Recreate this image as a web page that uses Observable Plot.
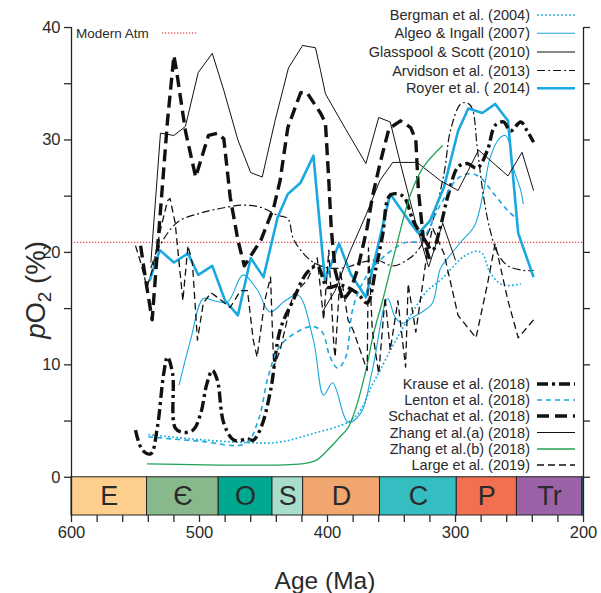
<!DOCTYPE html>
<html><head><meta charset="utf-8">
<script src="https://cdn.jsdelivr.net/npm/d3@7"></script>
<script src="https://cdn.jsdelivr.net/npm/@observablehq/plot@0.6"></script>
<style>body{margin:0;background:#fff;} #chart{width:601px;height:593px;}</style>
</head><body><div id="chart"></div>
<script>
// ---------- data ----------
const modernAtm = 20.9;
const periodNames = ["E", "Є", "O", "S", "D", "C", "P", "Tr", ""];
const periodStart = [600, 541, 485, 443, 419, 359, 299, 252, 201];
const periodEnd   = [541, 485, 443, 419, 359, 299, 252, 201, 200];
const periodColors = ["#FDCF8C", "#88B98C", "#00A88F", "#A8DCCB", "#F0A66E", "#35BEC1", "#F2704F", "#9C62A8", "#33B5D0"];
const xTicks = d3.range(200, 601, 20);
const yTicks = d3.range(0, 41, 5);

const bergmanAge = [540,505,466,439,411,384,374,366,359,349,341,333,322,312,302,294,284,279,273,263,249];
const bergmanO2  = [3.8,3.4,3.1,3.1,3.9,4.9,6,8,9.5,11.7,13.3,14.8,16.6,17.5,18.7,19.6,20.1,19.9,18.2,17.1,17.2];

const algeoAge = [516,507,497,489,478,466,455,445,433,423,411,403,396,384,374,365,353,347,341,334,326,318,312,306,296,285,278,273,266,261,258,255,249,247];
const algeoO2  = [8.2,12.2,15.9,15.7,15.6,18,16.7,14.7,15.7,16.2,12.2,7.3,8.4,4.9,5.7,9.5,15.9,14.2,13.7,14.2,14.7,15.5,18.5,19.5,20.9,22.4,25.5,28.4,30.1,30.4,29.8,27.6,25.5,24.3];

const glasspoolAge = [538,530.5,520,511,501,490,481,470,460,451,441,430.5,419.5,409.4,405.5,401.6,386,370,360,351,343,331,321,310,300];
const glasspoolO2  = [19.1,30.6,30.4,31.2,36,37.7,34.4,30,27.1,26.7,31.7,36.4,38.4,38.2,36.2,34.1,31,27.9,32,31.6,27.9,22.6,18.7,22.6,19.3];

const arvidsonAge = [538,531,517,499,484,466,452,439,431,427,421,411,398,384,374,361,349,338,330,320,309,304,296,291,287,283,278,273,267,259,247,239];
const arvidsonO2  = [18.6,20.6,22.7,23.5,23.9,24.2,24,23.3,23,21.3,20.2,19.1,18.6,18.7,19.1,19.3,18.8,19.3,20.1,22.1,27,30.8,33.2,33.3,32.8,29.3,24.9,22,19.9,18.8,18.4,18.4];

const royerAge = [539,531,520,509,501,490,480,470,460,450,439,431,421,411,402,391,382,370,351,335,329,320,309,298,290,279,269,259,251,239];
const royerO2  = [17.5,20.2,19.1,19.9,18,18.8,15.7,14.4,19.5,17.8,23.1,25.2,26.2,28.6,17.5,20.8,18.1,16,25.2,22.6,21.7,22.8,25.8,30.8,32.8,32.4,33.2,31.7,21.7,17.8];

const krauseAge = [550,544.5,538,533,528,525,521,519,513,505,499,494.5,490,486,481,473,462.5,458,452,444.5,437,427,416,408,400,390,377,369,362.5,357,351,341,333,325,318,312,305.5,298,291,283,275,269,262.5,257,249,244,239];
const krauseO2  = [4.2,2.4,2.1,4.4,9.2,10.7,9.2,4.4,4,4.2,5.7,8.2,9.5,8.6,4.8,3.3,3.4,3.3,4.4,7.7,13.1,15.7,18.2,18.8,16.9,17.1,16.4,15.5,18.4,21.5,25.1,25,22.8,21.3,20.2,22.2,25.2,27.6,27.9,27.5,29.1,31.3,31.6,30.8,31.6,30.8,29.8];

const lentonAge = [540,499,464,454,446,437,421,411,404,398,392,386,380,370,359,341,327,312,298,288,281,270,259,252];
const lentonO2  = [3.6,3.2,3.0,5.1,9.1,11.7,13.1,13.4,12.9,10.7,9.7,10.6,15.1,17.8,19.3,20.8,21.1,24.2,26.6,27,26.7,25.2,23.7,23];

const schachatAge = [546,542,537,530.5,525,520,518,511,503,493,486,481,476,470,465,452,442,437,431,421,416,405.5,401.6,399,397,394,388,382,376,369,365,359,352,343,335,331,329,325,319.5];
const schachatO2  = [20.6,17.5,14,23.7,31.7,37.5,36.2,30.8,26.7,30.4,30.6,30.1,24.9,21.1,18.8,21.1,24,26.4,31.1,34.2,34.2,32.4,31.5,26.4,22,18.4,15.7,16.6,18.7,22.2,24.9,27.9,31,31.7,31.1,30,25.5,21.1,19.1];

const zhangAAge = [404,394,382,370,359,349,330,312,298,290,282,273,259,248,239];
const zhangAO2  = [14.7,16.6,20.2,23.3,26.4,28,28,26.4,25.5,27.3,29.1,28.2,26.8,28.9,25.5];

const zhangBAge = [541,420,409,400,391,384,378,370,364,357,347,335,325,310];
const zhangBO2  = [1.2,1.2,1.5,2.4,3.5,4.4,6.1,9.5,12.8,15.7,20.2,25.2,27.6,29.5];

const largeAge = [550,546,541,537,530.5,525,523,519,513,509,505.5,501.6,497,491,486,476,468,462.5,458,455,449,444.5,442,437,427,416,408,403,399,395,394,390,384,380,369,368,365,360,355,351,345,339,337,331,323,318,309,298,284,275,269,259,251,239];
const largeO2  = [20.6,19.1,16.9,18.4,22,24.6,24.8,22.6,15.7,20.6,19,12.2,15.5,16.4,16,15.1,16.6,16.6,12.2,10.7,15.7,17.8,9.8,11.3,16.2,17.5,19.5,14,20.2,11.6,10.7,18.4,14,13.1,9.5,20.4,13.1,9.2,16,11.3,15.7,9.8,17.2,12.9,19.3,22.2,19.9,14.4,12.4,17.2,20.8,15.7,12.4,14];

// ---------- styles ----------
const CYAN = "#1AA8E0", GREEN = "#1FA456", BLACK = "#111";
const series = [
  {name:"Bergman et al. (2004)", age:bergmanAge, o2:bergmanO2, stroke:CYAN, w:1.6, dash:"1.8,2.2", curve:"catmull-rom"},
  {name:"Algeo & Ingall (2007)", age:algeoAge, o2:algeoO2, stroke:CYAN, w:1.1, dash:null, curve:"catmull-rom"},
  {name:"Glasspool & Scott (2010)", age:glasspoolAge, o2:glasspoolO2, stroke:BLACK, w:1, dash:null, curve:"linear"},
  {name:"Arvidson et al. (2013)", age:arvidsonAge, o2:arvidsonO2, stroke:BLACK, w:1.2, dash:"8,3,2,3", curve:"catmull-rom"},
  {name:"Royer et al. ( 2014)", age:royerAge, o2:royerO2, stroke:CYAN, w:2.6, dash:null, curve:"linear"},
  {name:"Krause et al. (2018)", age:krauseAge, o2:krauseO2, stroke:BLACK, w:3.4, dash:"11,4,3,4", curve:"catmull-rom"},
  {name:"Lenton et al. (2018)", age:lentonAge, o2:lentonO2, stroke:CYAN, w:1.6, dash:"5,4", curve:"catmull-rom"},
  {name:"Schachat et al. (2018)", age:schachatAge, o2:schachatO2, stroke:BLACK, w:3.4, dash:"12,6", curve:"linear"},
  {name:"Zhang et al.(a) (2018)", age:zhangAAge, o2:zhangAO2, stroke:BLACK, w:1, dash:null, curve:"linear"},
  {name:"Zhang et al.(b) (2018)", age:zhangBAge, o2:zhangBO2, stroke:GREEN, w:1.3, dash:null, curve:"catmull-rom"},
  {name:"Large et al. (2019)", age:largeAge, o2:largeO2, stroke:BLACK, w:1.3, dash:"7,4", curve:"linear"}
];
const barBottom = -3.4;
const periods = periodNames.map((n,i)=>({name:n, x1:periodStart[i], x2:periodEnd[i], fill:periodColors[i], mid:(periodStart[i]+periodEnd[i])/2}));

const lineMarks = series.map(s => Plot.line(s.age.map((a,i)=>({age:a, o2:s.o2[i]})), {
  x:"age", y:"o2", stroke:s.stroke, strokeWidth:s.w, strokeDasharray:s.dash, curve:s.curve, strokeLinecap:"butt", strokeLinejoin:"round"
}));

const chart = Plot.plot({
  width:601, height:593,
  marginTop:27, marginBottom:78, marginLeft:71, marginRight:18,
  style:{fontFamily:"'Liberation Sans', Arial, sans-serif", fontSize:"16.5px", color:"#2a2a2a", background:"#fff"},
  x:{domain:[600,200]},
  y:{domain:[barBottom,40]},
  marks:[
    Plot.ruleY([modernAtm], {stroke:"#E31A1C", strokeWidth:1, strokeDasharray:"1.3,1.7"}),
    ...lineMarks,
    Plot.rect(periods, {x1:"x1", x2:"x2", y1:barBottom, y2:0, fill:"fill", stroke:"#222", strokeWidth:1}),
    Plot.text(periods, {x:"mid", y:barBottom/2, text:"name", fontSize:27, fill:"#2a2a2a"}),
    Plot.ruleX([600], {y1:barBottom, y2:40, stroke:"#222", strokeWidth:1.3}),
    Plot.ruleX([200], {y1:barBottom, y2:40, stroke:"#222", strokeWidth:1.3}),
    Plot.axisY({anchor:"left", ticks:yTicks, tickSize:7, tickPadding:4, tickFormat:d=> d%10===0 ? d : "", label:null, strokeWidth:1.3}),
    Plot.axisY({anchor:"right", ticks:yTicks, tickSize:6, tickFormat:()=> "", label:null, strokeWidth:1.3}),
    Plot.axisX({anchor:"bottom", ticks:xTicks, tickSize:7, tickPadding:4, tickFormat:d=> d%100===0 ? d : "", label:null, strokeWidth:1.3})
  ]
});
document.getElementById("chart").appendChild(chart);

// ---------- annotations & legends ----------
const svg = d3.select(chart);
const g = svg.append("g").attr("font-family","'Liberation Sans', Arial, sans-serif").attr("fill","#2a2a2a");
// axis titles
g.append("text").attr("x",325).attr("y",589).attr("text-anchor","middle").attr("font-size",24.5).text("Age (Ma)");
const yl = g.append("text").attr("transform","translate(45,290) rotate(-90)").attr("text-anchor","middle").attr("font-size",27.5);
yl.append("tspan").attr("font-style","italic").text("p");
yl.append("tspan").text("O");
yl.append("tspan").attr("font-size",19).attr("dy",6).text("2");
yl.append("tspan").attr("dy",-6).text(" (%)");
// modern atm
g.append("text").attr("x",76).attr("y",37.5).attr("text-anchor","start").attr("font-size",13.5).text("Modern Atm");
g.append("line").attr("x1",162).attr("x2",198).attr("y1",33).attr("y2",33).attr("stroke","#E31A1C").attr("stroke-dasharray","1.3,1.7");
// lower legend background
g.append("rect").attr("x",390).attr("y",373).attr("width",192).attr("height",103).attr("fill","#fff");
const topRows = [15, 33.3, 52, 70.5, 88.3];
const botRows = [384, 400, 416, 432.5, 449, 465];
series.forEach((s,i)=>{
  const y = i < 5 ? topRows[i] : botRows[i-5];
  g.append("text").attr("x",530).attr("y",y+5).attr("text-anchor","end").attr("font-size",14.5).text(s.name);
  g.append("line").attr("x1",537).attr("x2",575).attr("y1",y).attr("y2",y)
    .attr("stroke",s.stroke).attr("stroke-width",s.w).attr("stroke-dasharray",s.dash);
});
</script>
</body></html>
